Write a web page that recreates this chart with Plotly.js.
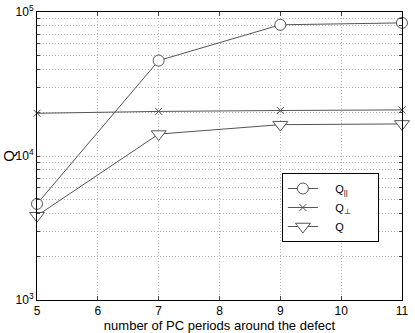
<!DOCTYPE html>
<html>
<head>
<meta charset="utf-8">
<script src="https://cdn.plot.ly/plotly-3.0.1.min.js"></script>
<style>html,body{margin:0;padding:0;background:#fff;}#chart{width:415px;height:333px;}</style>
</head>
<body>
<div id="chart"></div>
<script>
// Data
const periods = [5, 7, 9, 11];
const qPar = [4650, 46000, 81500, 84000];
const qPerp = [19800, 20400, 20700, 20900];
const qTotal = [3850, 14200, 16500, 16700];

const seriesNames = ['&nbsp;&nbsp;&nbsp;&nbsp;Q<sub>||</sub>&nbsp;&nbsp;&nbsp;&nbsp;&nbsp;&nbsp;&nbsp;&nbsp;', '&nbsp;&nbsp;&nbsp;&nbsp;Q<sub>⊥</sub>', '&nbsp;&nbsp;&nbsp;&nbsp;Q'];
const xTickVals = [5, 6, 7, 8, 9, 10, 11];
const yDecades = [1000, 10000, 100000];
const yDecadeLabels = ['10<sup>3</sup>', '10<sup>4</sup>', '10<sup>5</sup>'];

// Log grid values (minor lines at 2..9 of each decade), labels only on decades
const yTickVals = [];
const yTickText = [];
for (let d = 0; d < yDecades.length; d++) {
  const base = yDecades[d];
  const steps = d < yDecades.length - 1 ? 9 : 1;
  for (let k = 1; k <= steps; k++) {
    yTickVals.push(base * k);
    yTickText.push(k === 1 ? yDecadeLabels[d] : '');
  }
}

const lineColor = '#555555';
function trace(y, name, symbol, size) {
  return {
    x: periods, y: y, name: name, type: 'scatter', mode: 'lines+markers',
    line: {color: lineColor, width: 1},
    marker: {symbol: symbol, size: size, color: '#ffffff',
             line: {color: lineColor, width: 1}},
    cliponaxis: false
  };
}

const data = [
  trace(qPar, seriesNames[0], 'circle', 11),
  trace(qPerp, seriesNames[1], 'x-thin', 7),
  trace(qTotal, seriesNames[2], 'triangle-down', 13)
];

const layout = {
  width: 415, height: 333,
  margin: {l: 37, r: 13, t: 12, b: 33},
  paper_bgcolor: '#fff', plot_bgcolor: '#fff',
  font: {family: 'Liberation Sans, Arial, sans-serif', color: '#000', size: 12},
  showlegend: true,
  legend: {
    x: 0.671, y: 0.441, xanchor: 'left', yanchor: 'top',
    bgcolor: '#fff', bordercolor: '#000', borderwidth: 1,
    font: {size: 11}, tracegroupgap: 0, itemwidth: 30
  },
  xaxis: {
    range: [5, 11], tickvals: xTickVals, ticks: 'inside', ticklen: 4,
    showline: true, linecolor: '#000', linewidth: 1, mirror: 'ticks',
    showgrid: true, gridcolor: '#b4b4b4', griddash: '1px,2px', gridwidth: 1,
    zeroline: false, tickfont: {size: 12},
    title: {text: 'number of PC periods around the defect', font: {size: 13}, standoff: 2}
  },
  yaxis: {
    type: 'log', range: [3, 5], tickvals: yTickVals, ticktext: yTickText,
    ticks: 'inside', ticklen: 3,
    showline: true, linecolor: '#000', linewidth: 1, mirror: 'ticks',
    showgrid: true, gridcolor: '#b4b4b4', griddash: '1px,2px', gridwidth: 1,
    zeroline: false, tickfont: {size: 12},
    title: {text: 'Q', font: {size: 15}, standoff: 6}
  }
};

Plotly.newPlot('chart', data, layout, {displayModeBar: false, staticPlot: true});
</script>
</body>
</html>
